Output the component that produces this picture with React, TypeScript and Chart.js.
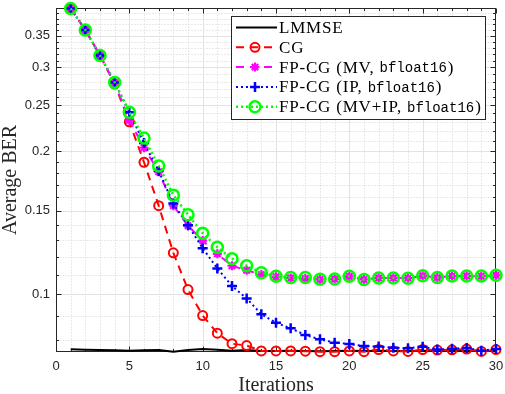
import React, { useEffect, useRef } from "react";
import { Chart, registerables } from "chart.js";

Chart.register(...registerables);

// ---------- data ----------
const iterations = [
  1, 2, 3, 4, 5, 6, 7, 8, 9, 10, 11, 12, 13, 14, 15, 16, 17, 18, 19, 20, 21, 22, 23, 24, 25, 26, 27, 28, 29, 30,
];
const lmmse = [
  0.0766, 0.0764, 0.0763, 0.0762, 0.0761, 0.0762, 0.0763, 0.0757, 0.0763, 0.0767, 0.0764, 0.0761, 0.0763, 0.076,
  0.076, 0.0761, 0.076, 0.0759, 0.076, 0.0761, 0.076, 0.0761, 0.076, 0.076, 0.0761, 0.076, 0.076, 0.0761, 0.076, 0.076,
];
const cg = [
  0.399, 0.3597, 0.3177, 0.2768, 0.2305, 0.1895, 0.1536, 0.1222, 0.1023, 0.0902, 0.0828, 0.0787, 0.078, 0.076, 0.076,
  0.076, 0.0759, 0.0757, 0.0757, 0.076, 0.0757, 0.0765, 0.076, 0.0758, 0.0765, 0.0763, 0.0764, 0.0767, 0.0758, 0.0765,
];
const fpcgMV = [
  0.399, 0.3597, 0.3177, 0.278, 0.2323, 0.2033, 0.181, 0.1536, 0.1394, 0.1297, 0.1216, 0.1148, 0.1123, 0.11, 0.1088,
  0.1082, 0.1079, 0.1074, 0.1077, 0.109, 0.1074, 0.1082, 0.1082, 0.1081, 0.1094, 0.1084, 0.1092, 0.1092, 0.1091, 0.1096,
];
const fpcgIP = [
  0.399, 0.3597, 0.3177, 0.279, 0.2415, 0.208, 0.1817, 0.1552, 0.1396, 0.125, 0.1133, 0.1041, 0.098, 0.0908, 0.0871,
  0.0848, 0.0821, 0.0804, 0.0791, 0.0786, 0.0778, 0.0776, 0.0772, 0.077, 0.0775, 0.0765, 0.0768, 0.0771, 0.0761, 0.0767,
];
const fpcgMVIP = [
  0.399, 0.3597, 0.3177, 0.279, 0.2415, 0.2131, 0.1862, 0.1616, 0.147, 0.1344, 0.1256, 0.1188, 0.1148, 0.111, 0.1091,
  0.1084, 0.1084, 0.1075, 0.1077, 0.1091, 0.1074, 0.1082, 0.1082, 0.1081, 0.1094, 0.1084, 0.1092, 0.1092, 0.1092, 0.1096,
];
const xTickValues = [0, 5, 10, 15, 20, 25, 30];
const yTickValues = [0.1, 0.15, 0.2, 0.25, 0.3, 0.35];
const xMin = 0;
const xMax = 30;
const yMin = 0.0756;
const yMax = 0.4;
const xLabel = "Iterations";
const yLabel = "Average BER";
const legendParts = [
  { pre: "LMMSE", mono: "", post: "" },
  { pre: "CG", mono: "", post: "" },
  { pre: "FP-CG (MV, ", mono: "bfloat16", post: ")" },
  { pre: "FP-CG (IP, ", mono: "bfloat16", post: ")" },
  { pre: "FP-CG (MV+IP, ", mono: "bfloat16", post: ")" },
];

// ---------- styles ----------
const SERIF = '"Liberation Serif", "Times New Roman", serif';
const SANS = '"Liberation Sans", Arial, sans-serif';
const MONO = '"Liberation Mono", "DejaVu Sans Mono", monospace';
const AXIS_COLOR = "#262626";

type Style = {
  color: string;
  width: number;
  dash: number[];
  marker: "none" | "circle" | "star" | "cross";
  radius: number;
  markerWidth: number;
};
const styles: Style[] = [
  { color: "#000000", width: 2, dash: [], marker: "none", radius: 0, markerWidth: 0 },
  { color: "#ff0000", width: 2, dash: [8, 6], marker: "circle", radius: 4.5, markerWidth: 2 },
  { color: "#ff00ff", width: 2, dash: [8, 6], marker: "star", radius: 4.5, markerWidth: 2.2 },
  { color: "#0000ff", width: 2, dash: [2, 3], marker: "cross", radius: 5, markerWidth: 2.5 },
  { color: "#00ff00", width: 2.5, dash: [2, 3], marker: "circle", radius: 5.5, markerWidth: 2.5 },
];
const seriesValues = [lmmse, cg, fpcgMV, fpcgIP, fpcgMVIP];

function minorY(): number[] {
  const out: number[] = [];
  for (let k = 8; k <= 39; k++) {
    const v = k / 100;
    if (v > yMin && v < yMax && !yTickValues.some((t) => Math.abs(t - v) < 1e-9)) out.push(v);
  }
  return out;
}

function drawMarker(ctx: CanvasRenderingContext2D, s: Style, x: number, y: number) {
  ctx.save();
  ctx.setLineDash([]);
  ctx.strokeStyle = s.color;
  ctx.lineWidth = s.markerWidth;
  const r = s.radius;
  ctx.beginPath();
  if (s.marker === "circle") {
    ctx.arc(x, y, r, 0, Math.PI * 2);
  } else if (s.marker === "cross") {
    ctx.moveTo(x - r, y);
    ctx.lineTo(x + r, y);
    ctx.moveTo(x, y - r);
    ctx.lineTo(x, y + r);
  } else if (s.marker === "star") {
    const d = r * Math.SQRT1_2;
    ctx.moveTo(x - r, y);
    ctx.lineTo(x + r, y);
    ctx.moveTo(x, y - r);
    ctx.lineTo(x, y + r);
    ctx.moveTo(x - d, y - d);
    ctx.lineTo(x + d, y + d);
    ctx.moveTo(x - d, y + d);
    ctx.lineTo(x + d, y - d);
  }
  ctx.stroke();
  ctx.restore();
}

const framePlugin = {
  id: "matlabFrame",
  beforeDatasetsDraw(chart: any) {
    const { ctx, chartArea: a } = chart;
    const xs = chart.scales.x;
    const ys = chart.scales.y;
    const L = Math.round(a.left) + 0.5;
    const R = Math.round(a.right) - 0.5;
    const T = Math.round(a.top) + 0.5;
    const B = Math.round(a.bottom) - 0.5;
    const px = (v: number) => Math.round(xs.getPixelForValue(v)) + 0.5;
    const py = (v: number) => Math.round(ys.getPixelForValue(v)) + 0.5;
    const ymin = minorY();
    const xminor: number[] = [];
    for (let v = xMin + 1; v < xMax; v++) if (!xTickValues.includes(v)) xminor.push(v);

    ctx.save();
    // minor grid (dotted)
    ctx.lineWidth = 1;
    ctx.strokeStyle = "#d2d2d2";
    ctx.setLineDash([1, 2]);
    ctx.beginPath();
    for (const v of xminor) {
      const p = px(v);
      ctx.moveTo(p, T);
      ctx.lineTo(p, B);
    }
    for (const v of ymin) {
      const p = py(v);
      ctx.moveTo(L, p);
      ctx.lineTo(R, p);
    }
    ctx.stroke();
    // major grid (solid)
    ctx.setLineDash([]);
    ctx.strokeStyle = "#e2e2e2";
    ctx.beginPath();
    for (const v of xTickValues) {
      if (v === xMin || v === xMax) continue;
      const p = px(v);
      ctx.moveTo(p, T);
      ctx.lineTo(p, B);
    }
    for (const v of yTickValues) {
      const p = py(v);
      ctx.moveTo(L, p);
      ctx.lineTo(R, p);
    }
    ctx.stroke();
    // box
    ctx.strokeStyle = AXIS_COLOR;
    ctx.lineWidth = 1;
    ctx.strokeRect(L, T, R - L, B - T);
    // ticks (inward, all four sides)
    ctx.beginPath();
    const major = 5;
    const minor = 2.5;
    for (const v of xTickValues) {
      const p = px(v);
      ctx.moveTo(p, B);
      ctx.lineTo(p, B - major);
      ctx.moveTo(p, T);
      ctx.lineTo(p, T + major);
    }
    for (const v of xminor) {
      const p = px(v);
      ctx.moveTo(p, B);
      ctx.lineTo(p, B - minor);
      ctx.moveTo(p, T);
      ctx.lineTo(p, T + minor);
    }
    for (const v of yTickValues) {
      const p = py(v);
      ctx.moveTo(L, p);
      ctx.lineTo(L + major, p);
      ctx.moveTo(R, p);
      ctx.lineTo(R - major, p);
    }
    for (const v of ymin) {
      const p = py(v);
      ctx.moveTo(L, p);
      ctx.lineTo(L + minor, p);
      ctx.moveTo(R, p);
      ctx.lineTo(R - minor, p);
    }
    ctx.stroke();
    ctx.restore();
  },
  afterDraw(chart: any) {
    const { ctx, chartArea: a } = chart;
    ctx.save();
    // axis titles
    ctx.fillStyle = AXIS_COLOR;
    ctx.font = `20px ${SERIF}`;
    ctx.textAlign = "center";
    ctx.textBaseline = "alphabetic";
    ctx.fillText(xLabel, (a.left + a.right) / 2, 391);
    ctx.save();
    ctx.translate(16, (a.top + a.bottom) / 2);
    ctx.rotate(-Math.PI / 2);
    ctx.fillText(yLabel, 0, 0);
    ctx.restore();

    // legend
    const bx = 231.5;
    const by = 16.5;
    const bw = 254;
    const bh = 103;
    ctx.fillStyle = "#ffffff";
    ctx.fillRect(bx, by, bw, bh);
    ctx.strokeStyle = AXIS_COLOR;
    ctx.lineWidth = 1;
    ctx.strokeRect(bx, by, bw, bh);
    const lx0 = 236;
    const lx1 = 277;
    const mx = 255;
    const tx = 279;
    for (let i = 0; i < legendParts.length; i++) {
      const s = styles[i];
      const cy = 27.5 + 19.8 * i;
      ctx.save();
      ctx.strokeStyle = s.color;
      ctx.lineWidth = s.width;
      ctx.setLineDash(s.dash);
      ctx.beginPath();
      ctx.moveTo(lx0, cy);
      ctx.lineTo(lx1, cy);
      ctx.stroke();
      ctx.restore();
      if (s.marker !== "none") drawMarker(ctx, s, mx, cy);

      const part = legendParts[i];
      ctx.fillStyle = "#000000";
      ctx.textAlign = "left";
      ctx.textBaseline = "middle";
      let x = tx;
      (ctx as any).letterSpacing = "0.8px";
      ctx.font = `17px ${SERIF}`;
      ctx.fillText(part.pre, x, cy + 1);
      x += ctx.measureText(part.pre).width;
      (ctx as any).letterSpacing = "0px";
      if (part.mono) {
        ctx.font = `14px ${MONO}`;
        ctx.fillText(part.mono, x, cy + 1.5);
        x += ctx.measureText(part.mono).width;
      }
      if (part.post) {
        ctx.font = `17px ${SERIF}`;
        ctx.fillText(part.post, x + 1, cy + 1);
      }
    }
    ctx.restore();
  },
};

export default function App() {
  const canvasRef = useRef<HTMLCanvasElement | null>(null);

  useEffect(() => {
    const canvas = canvasRef.current;
    if (!canvas) return;
    const datasets = seriesValues.map((vals, i) => {
      const s = styles[i];
      return {
        label: legendParts[i].pre + legendParts[i].mono + legendParts[i].post,
        data: iterations.map((it, k) => ({ x: it, y: vals[k] })),
        borderColor: s.color,
        backgroundColor: "rgba(0,0,0,0)",
        borderWidth: s.width,
        borderDash: s.dash,
        pointStyle: s.marker === "none" ? "circle" : s.marker,
        pointRadius: s.radius,
        pointHoverRadius: s.radius,
        pointBorderWidth: s.markerWidth,
        pointBorderColor: s.color,
        pointBackgroundColor: "rgba(0,0,0,0)",
        tension: 0,
        fill: false,
        clip: false as any,
        order: 5 - i,
      };
    });

    const chart = new Chart(canvas, {
      type: "line",
      data: { datasets },
      options: {
        animation: false,
        responsive: false,
        events: [],
        layout: { padding: { top: 5, right: 9, left: 0, bottom: 0 } },
        plugins: {
          legend: { display: false },
          tooltip: { enabled: false },
          title: { display: false },
        },
        scales: {
          x: {
            type: "linear",
            position: "bottom",
            min: xMin,
            max: xMax,
            afterBuildTicks: (scale: any) => {
              scale.ticks = xTickValues.map((v) => ({ value: v }));
            },
            ticks: {
              callback: (v: any) => String(v),
              font: { family: SANS, size: 13 },
              color: AXIS_COLOR,
              padding: 7,
              autoSkip: false,
              maxRotation: 0,
            },
            grid: { display: false, drawTicks: false },
            border: { display: false },
            afterFit: (scale: any) => {
              scale.height = 42;
              scale.paddingLeft = 0;
              scale.paddingRight = 0;
            },
          },
          y: {
            type: "logarithmic",
            position: "left",
            min: yMin,
            max: yMax,
            afterBuildTicks: (scale: any) => {
              scale.ticks = yTickValues.map((v) => ({ value: v }));
            },
            ticks: {
              callback: (v: any) => String(v),
              font: { family: SANS, size: 13 },
              color: AXIS_COLOR,
              padding: 6,
              autoSkip: false,
            },
            grid: { display: false, drawTicks: false },
            border: { display: false },
            afterFit: (scale: any) => {
              scale.width = 56;
              scale.paddingTop = 0;
              scale.paddingBottom = 0;
            },
          },
        },
      },
      plugins: [framePlugin],
    });
    return () => chart.destroy();
  }, []);

  return (
    <div style={{ position: "fixed", left: 0, top: 0, width: 505, height: 394, background: "#ffffff" }}>
      <canvas ref={canvasRef} width={505} height={394} style={{ display: "block", width: 505, height: 394 }} />
    </div>
  );
}
